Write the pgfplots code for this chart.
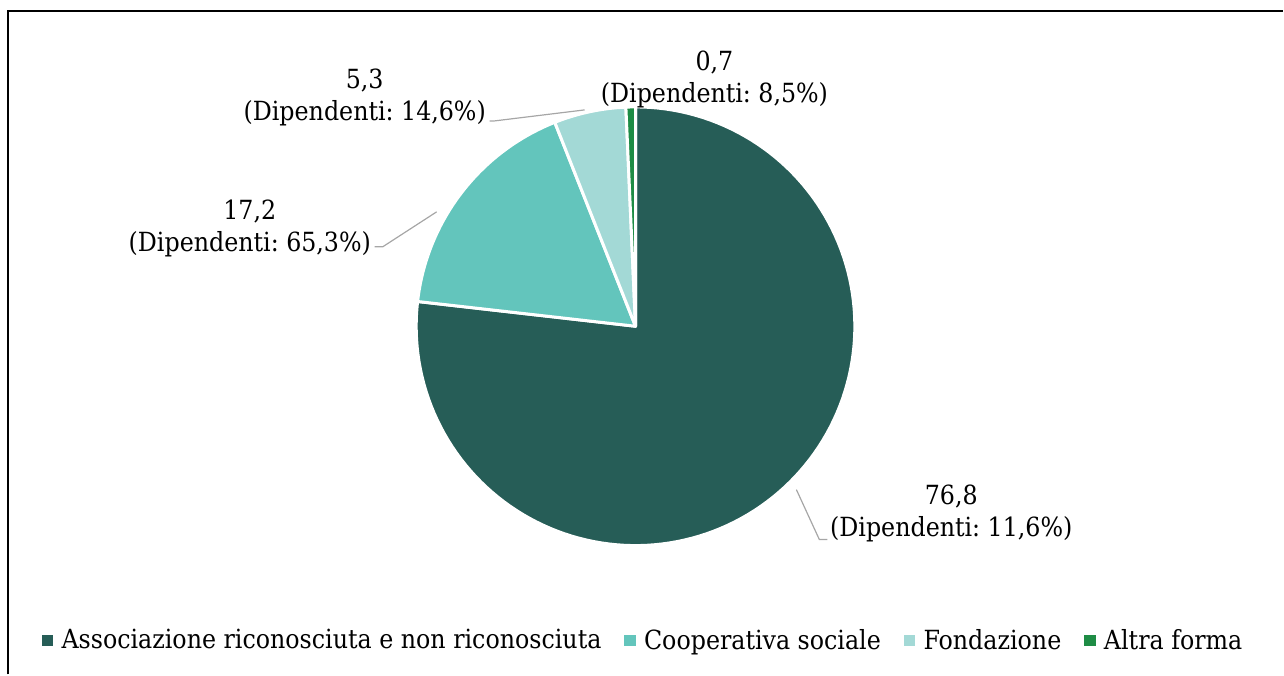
\documentclass[border=0pt]{standalone}
\usepackage{pgfplots}
\pgfplotsset{compat=1.18}
\usepackage{fontspec}
\setmainfont{DejaVu Serif Condensed}
\definecolor{cA}{HTML}{265D57}
\definecolor{cB}{HTML}{63C5BC}
\definecolor{cC}{HTML}{A3D9D6}
\definecolor{cD}{HTML}{1E8C45}
\definecolor{leader}{HTML}{A6A6A6}
\begin{document}
\frenchspacing
\begin{tikzpicture}
% shares (percent), clockwise from 12 o'clock
\def\vA{76.8}\def\vB{17.2}\def\vC{5.3}\def\vD{0.7}
\pgfmathsetmacro{\aA}{90-3.6*\vA}
\pgfmathsetmacro{\aB}{\aA-3.6*\vB}
\pgfmathsetmacro{\aC}{\aB-3.6*\vC}
\pgfmathsetmacro{\aD}{\aC-3.6*\vD}
\begin{axis}[
  width=642pt, height=337.5pt, scale only axis,
  xmin=0, xmax=1284, ymin=0, ymax=675,
  hide axis, clip=false,
  legend style={at={(0.5020,0.0504)}, anchor=center, draw=none, fill=none,
    font=\fontsize{13.2}{16}\selectfont, legend columns=4,
    /tikz/every even column/.append style={column sep=9.5pt}},
  legend image code/.code={\fill[#1] (0pt,-2.6pt) rectangle (5.2pt,2.6pt); \path[draw=none,fill=none] (0pt,0pt) -- (7.7pt,0pt);},
]
\path (axis cs:0,0) rectangle (axis cs:1284,675);
\addplot[forget plot, fill=cA, draw=white, line width=1.5pt, line join=round, domain=\aA:90, samples=140, variable=\t]
  ({636+219.5*cos(\t)},{348.5+219.5*sin(\t)}) -- (axis cs:636,348.5) -- cycle;
\addplot[forget plot, fill=cB, draw=white, line width=1.5pt, line join=round, domain=\aB:\aA, samples=40, variable=\t]
  ({636+219.5*cos(\t)},{348.5+219.5*sin(\t)}) -- (axis cs:636,348.5) -- cycle;
\addplot[forget plot, fill=cC, draw=white, line width=1.5pt, line join=round, domain=\aC:\aB, samples=15, variable=\t]
  ({636+219.5*cos(\t)},{348.5+219.5*sin(\t)}) -- (axis cs:636,348.5) -- cycle;
\addplot[forget plot, fill=cD, draw=white, line width=1.5pt, line join=round, domain=\aD:\aC, samples=5, variable=\t]
  ({636+219.5*cos(\t)},{348.5+219.5*sin(\t)}) -- (axis cs:636,348.5) -- cycle;

\addlegendimage{cA}\addlegendentry{Associazione riconosciuta e non riconosciuta}
\addlegendimage{cB}\addlegendentry{Cooperativa sociale}
\addlegendimage{cC}\addlegendentry{Fondazione}
\addlegendimage{cD}\addlegendentry{Altra forma}

% leader lines
\draw[leader, line width=0.6pt] (axis cs:797,185) -- (axis cs:820,135) -- (axis cs:828,135);
\draw[leader, line width=0.6pt] (axis cs:437,463) -- (axis cs:383,428) -- (axis cs:375,428);
\draw[leader, line width=0.6pt] (axis cs:585,565) -- (axis cs:495,554) -- (axis cs:490,554);

% data labels
\begin{scope}[every node/.style={font=\fontsize{13.2}{16}\selectfont, align=center, inner sep=0pt}]
\node at (axis cs:952,161.5) {76,8\\(Dipendenti: 11,6\%)};
\node at (axis cs:250,446.5) {17,2\\(Dipendenti: 65,3\%)};
\node at (axis cs:365,577) {5,3\\(Dipendenti: 14,6\%)};
\node at (axis cs:715,595) {0,7\\(Dipendenti: 8,5\%)};
\end{scope}

% frame
\draw[black, line width=1pt] (axis cs:8.5,0) -- (axis cs:8.5,664) -- (axis cs:1284,664);
\end{axis}
\end{tikzpicture}
\end{document}
